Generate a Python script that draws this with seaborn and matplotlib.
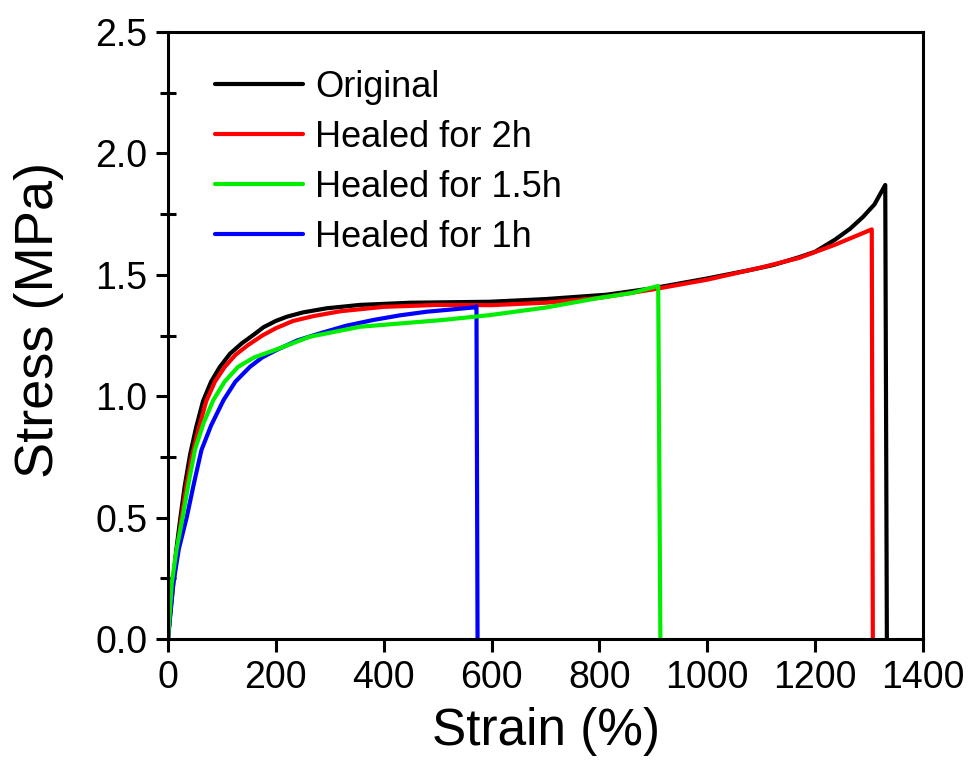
import numpy as np
import pandas as pd
import matplotlib
matplotlib.use("Agg")
import matplotlib.pyplot as plt
import seaborn as sns

# ---- data ----
orig_strain = [0, 4, 9, 15, 23, 31, 41, 52, 65, 80, 96, 115, 137, 160, 177, 200, 220, 250, 294, 356, 450, 597,
               700, 813, 900, 1000, 1080, 1122, 1171, 1200, 1237, 1265, 1289, 1310, 1330, 1333]
orig_stress = [0, 0.11, 0.23, 0.36, 0.50, 0.63, 0.76, 0.87, 0.98, 1.06, 1.12, 1.175, 1.218, 1.255, 1.284, 1.31,
               1.327, 1.345, 1.362, 1.376, 1.385, 1.389, 1.40, 1.418, 1.445, 1.485, 1.52, 1.54, 1.573, 1.595,
               1.645, 1.69, 1.739, 1.79, 1.87, 0.0]

h2_strain = [0, 4, 9, 16, 25, 34, 44, 56, 71, 87, 105, 125, 148, 175, 200, 232, 270, 320, 400, 500, 600,
             700, 800, 900, 1000, 1100, 1171, 1237, 1305, 1307]
h2_stress = [0, 0.10, 0.21, 0.35, 0.50, 0.63, 0.75, 0.86, 0.98, 1.06, 1.12, 1.17, 1.21, 1.25, 1.28, 1.31,
             1.33, 1.35, 1.368, 1.376, 1.375, 1.385, 1.405, 1.44, 1.48, 1.53, 1.57, 1.624, 1.687, 0.0]

h15_strain = [0, 7, 16, 27, 38, 50, 66, 84, 105, 130, 160, 198, 263, 356, 510, 597, 700, 800, 860, 909, 913]
h15_stress = [0, 0.23, 0.37, 0.50, 0.64, 0.78, 0.89, 0.984, 1.06, 1.121, 1.16, 1.19, 1.245, 1.286, 1.314,
              1.334, 1.365, 1.405, 1.425, 1.454, 0.0]

h1_strain = [0, 10, 20, 35, 48, 62, 80, 103, 125, 152, 175, 201, 240, 282, 330, 381, 430, 480, 530, 569, 572, 574]
h1_stress = [0, 0.23, 0.37, 0.504, 0.64, 0.778, 0.88, 0.984, 1.06, 1.121, 1.16, 1.19, 1.23, 1.259, 1.29,
             1.314, 1.333, 1.348, 1.358, 1.366, 1.37, 0.0]

labels = ["Original", "Healed for 2h", "Healed for 1.5h", "Healed for 1h"]
colors = ["#000000", "#FF0000", "#00EE00", "#0000FF"]
x_ticks = [0, 200, 400, 600, 800, 1000, 1200, 1400]
y_ticks = [0.0, 0.5, 1.0, 1.5, 2.0, 2.5]

series = {
    labels[0]: (orig_strain, orig_stress),
    labels[1]: (h2_strain, h2_stress),
    labels[2]: (h15_strain, h15_stress),
    labels[3]: (h1_strain, h1_stress),
}

sns.set_style("ticks")
plt.rcParams["font.family"] = ["Liberation Sans", "DejaVu Sans"]
plt.rcParams["text.color"] = "black"
plt.rcParams["axes.labelcolor"] = "black"
plt.rcParams["xtick.color"] = "black"
plt.rcParams["ytick.color"] = "black"

fig = plt.figure(figsize=(9.75, 7.8), dpi=100)
ax = fig.add_axes([168 / 975, 1 - 639 / 780, (923 - 168) / 975, (639 - 32) / 780])

draw_order = [labels[0], labels[1], labels[3], labels[2]]
for lab in draw_order:
    xs, ys = series[lab]
    df = pd.DataFrame({"Strain": xs, "Stress": ys})
    sns.lineplot(data=df, x="Strain", y="Stress", sort=False, estimator=None,
                 color=colors[labels.index(lab)], linewidth=3.0, label=lab, ax=ax)

ax.set_xlim(0, 1400)
ax.set_ylim(0, 2.5)
ax.set_xticks(x_ticks)
ax.set_yticks(y_ticks)
ax.set_xticklabels([str(v) for v in x_ticks])
ax.set_yticklabels([f"{v:.1f}" for v in y_ticks])
ax.set_yticks([0.25, 0.75, 1.25, 1.75, 2.25], minor=True)

for s in ax.spines.values():
    s.set_linewidth(2.2)
    s.set_color("black")
    s.set_visible(True)

ax.tick_params(axis="both", which="major", direction="out", length=9, width=2.2,
               labelsize=27, colors="black", labelcolor="black")
ax.tick_params(axis="y", which="major", pad=6)
ax.tick_params(axis="x", which="major", pad=6)
ax.tick_params(axis="y", which="minor", direction="inout", length=11, width=2.2)
ax.tick_params(top=False, right=False, which="both")

ax.set_xlabel("Strain (%)", fontsize=37, labelpad=8, color="black")
ax.set_ylabel("Stress (MPa)", fontsize=39, color="black")
ax.yaxis.set_label_coords(-0.138, 0.5255)

handles, labs = ax.get_legend_handles_labels()
hmap = dict(zip(labs, handles))
leg = ax.legend([hmap[l] for l in labels], labels, loc="upper left",
                bbox_to_anchor=(0.043, 0.962), frameon=False, fontsize=26,
                handlelength=2.45, handletextpad=0.33, labelspacing=0.42, borderaxespad=0)
for t in leg.get_texts():
    t.set_color("black")
for lh in leg.get_lines():
    lh.set_linewidth(3.0)

fig.savefig("out.png", dpi=100)
